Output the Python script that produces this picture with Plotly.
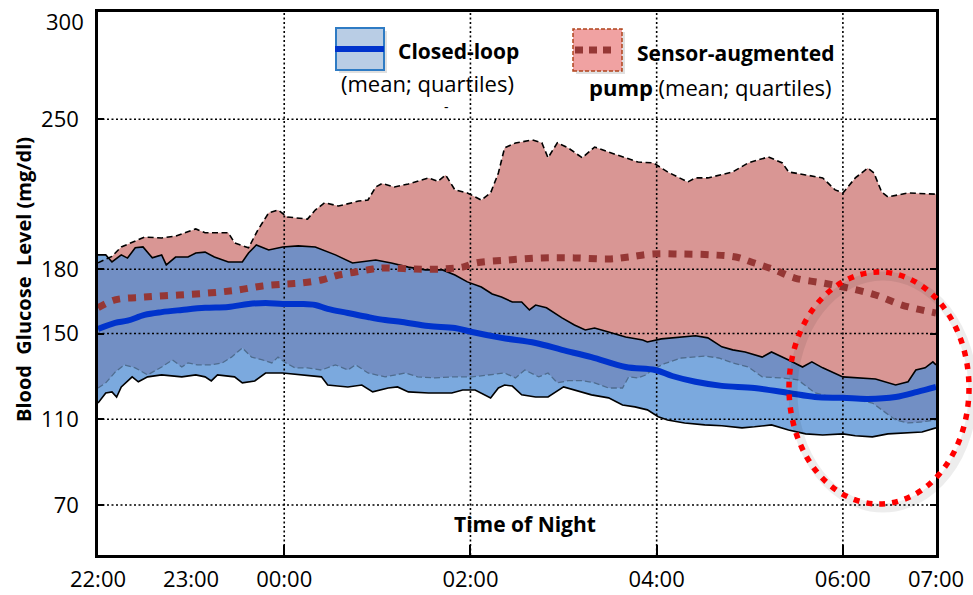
import plotly.graph_objects as go

# ---------------- data (minutes after 22:00, glucose mg/dl) ----------------
sap_upper_min = [0, 9, 15, 30, 41, 50, 63, 69, 84, 88, 97, 103, 110, 116, 122, 135, 140, 146, 155, 168,
                 174, 179, 183, 191, 200, 213, 219, 224, 230, 238, 247, 253, 258, 262, 269, 280, 286, 290,
                 296, 303, 312, 320, 329, 338, 348, 358, 367, 380, 385, 393, 409, 419, 432, 441, 445, 456,
                 467, 475, 480, 488, 496, 500, 505, 509, 522, 540]
sap_upper_val = [183, 186, 190.4, 195, 194.6, 195.5, 198.8, 197, 197, 192.3, 190, 198.3, 206.3, 207.6, 204.4,
                 203.4, 207.6, 211, 209.5, 211.8, 212.3, 218.4, 220, 218.4, 219.8, 222.6, 221, 224, 217,
                 215.6, 212.3, 215.6, 224.9, 236.6, 238.9, 240.3, 239, 232, 239, 236.6, 232, 237, 234.7,
                 232.4, 230, 229.6, 225.4, 220.7, 222.6, 222.6, 225.4, 229.6, 232.4, 229.6, 225.4, 224,
                 222.6, 217, 215.6, 222.6, 227.2, 224.9, 216, 213.7, 215.6, 215]

sap_lower_min = [0, 5, 11, 17, 24, 32, 41, 48, 54, 58, 64, 73, 80, 86, 93, 99, 106, 112, 116, 121, 127, 135,
                 144, 153, 161, 166, 174, 185, 198, 206, 217, 228, 241, 251, 262, 269, 275, 284, 290, 296,
                 303, 312, 320, 329, 338, 342, 348, 353, 357, 365, 376, 391, 400, 409, 419, 428, 441, 451,
                 462, 473, 483, 499, 507, 514, 522, 531, 540]
sap_lower_val = [124.6, 127, 132, 135.4, 134, 130.7, 134.4, 137.7, 134.4, 136.3, 135.4, 135.4, 136.3, 139,
                 143.3, 139, 137.7, 136.3, 139, 136.3, 134, 134, 133, 135.4, 133, 135.4, 131.6, 129.8, 131.6,
                 129.8, 129.3, 129.8, 129.8, 130.7, 131.6, 129.3, 133, 129.8, 131.6, 127, 128, 128, 127,
                 124.6, 124.6, 129.8, 129.3, 130.7, 133, 136, 138.6, 139.5, 138.6, 136.3, 134.4, 129.8,
                 129.3, 128.4, 122.3, 120.4, 120, 117.6, 113.4, 109.7, 108.3, 108.8, 109.7]

sap_mean_min = [0, 11, 30, 52, 73, 90, 106, 121, 131, 144, 155, 166, 177, 185, 204, 222, 235, 243, 264, 286,
                307, 329, 342, 357, 376, 396, 411, 423, 436, 449, 467, 483, 501, 518, 540]
sap_mean_val = [162, 165.7, 167, 168, 169, 170.3, 172.2, 173.1, 173.6, 175, 177.3, 178.7, 180.1, 180.6,
                180.1, 180.1, 181, 182.9, 184.3, 185.3, 185.3, 184.8, 185.7, 187.1, 187.1, 186.7, 185.7,
                182.9, 179.7, 175.9, 173.6, 171.3, 168, 163.3, 159.6]

cl_upper_min = [0, 5, 9, 15, 19, 24, 29, 35, 41, 44, 50, 58, 63, 69, 75, 84, 93, 97, 102, 110, 119, 129, 140,
                153, 164, 170, 179, 189, 200, 211, 222, 230, 238, 247, 254, 260, 267, 273, 278, 282, 289,
                299, 307, 314, 320, 329, 340, 351, 354, 363, 370, 385, 393, 402, 409, 417, 428, 434, 445,
                454, 460, 467, 480, 492, 501, 514, 522, 527, 533, 538, 540]
cl_upper_val = [186.7, 186.7, 183.4, 186.7, 185.2, 190, 190.4, 185.3, 186.7, 182, 185.7, 185.7, 187.6, 188,
                185.7, 183.4, 183.4, 187.6, 191.3, 189, 190.4, 190.9, 190.4, 186.7, 182.9, 183.4, 184.3,
                182.9, 181, 179.7, 179.7, 177.3, 174.1, 171.7, 168.5, 167, 164.7, 164.7, 161, 163.3, 162,
                157.3, 154, 151.7, 152.6, 150.7, 148.4, 147, 146.1, 147.5, 148, 149, 148, 143.8, 142.4,
                141.4, 139, 141.4, 137.7, 134.4, 136.8, 134, 129.8, 129.3, 128.8, 126, 127.5, 133, 134,
                136.8, 135.4]

cl_lower_min = [0, 5, 9, 12, 15, 22, 26, 32, 41, 54, 63, 69, 73, 77, 88, 93, 101, 108, 119, 131, 144, 148,
                157, 161, 170, 177, 187, 193, 200, 213, 228, 235, 243, 253, 258, 262, 267, 273, 282, 290,
                300, 307, 318, 329, 338, 346, 354, 361, 367, 378, 391, 402, 415, 423, 434, 445, 456, 467,
                480, 488, 499, 509, 520, 531, 540]
cl_lower_val = [117.6, 122.3, 122.8, 120.4, 125.1, 129.8, 127.5, 129.8, 130.7, 129.8, 130.7, 129.8, 127.9,
                130.7, 129.8, 127, 127.9, 131.6, 131.6, 130.7, 129.8, 126, 125.5, 125.1, 126, 122.8, 124.6,
                125.1, 122.8, 122.3, 122.3, 123.7, 123.7, 120, 124.6, 126, 125.5, 121.4, 120.4, 120.4,
                125.1, 123.7, 121.4, 120, 116.7, 115.8, 114.4, 111.2, 109.7, 108.3, 107.4, 107, 106, 106.5,
                107.4, 105, 103.2, 102.7, 103.2, 102.3, 101.8, 103.2, 103.7, 104.1, 106]

cl_mean_min = [0, 11, 19, 30, 41, 54, 69, 84, 97, 108, 119, 131, 140, 148, 161, 174, 185, 196, 213, 230, 241,
               260, 282, 299, 318, 340, 359, 370, 385, 402, 423, 445, 462, 480, 496, 514, 528, 540]
cl_mean_val = [152.1, 155, 156, 158.7, 160, 161, 162, 162.4, 163.8, 164.3, 163.8, 163.8, 163.3, 161.5, 159.6,
               157.7, 156.3, 155.4, 153.5, 152.6, 150.7, 148, 145.6, 142.4, 139, 134.4, 133, 130.2, 127.5,
               125.6, 124.6, 122.3, 120.4, 120, 119.5, 120.4, 122.8, 125.1]

x_tick_vals = [0, 60, 120, 240, 360, 480, 540]
x_tick_text = ["22:00", "23:00", "00:00", "02:00", "04:00", "06:00", "07:00"]
x_grid_vals = [120, 240, 360, 480]
y_tick_vals = [70, 110, 150, 180, 250, 300]
y_grid_vals = [70, 110, 150, 180, 250]
x_range = [0, 540]
y_range = [46.7, 300]

# ---------------- layout geometry (pixels) ----------------
W, H = 973, 595
PL, PR, PT, PB = 98, 936, 12, 555
FONT = "Open Sans"


def px(x):
    return (x - PL) / (PR - PL)


def py(y):
    return (PB - y) / (PB - PT)


RED_FILL = "#D99694"
BLUE_FILL = "rgba(81,141,211,0.755)"

fig = go.Figure()

# SAP quartile band
fig.add_trace(go.Scatter(
    x=sap_upper_min + sap_lower_min[::-1], y=sap_upper_val + sap_lower_val[::-1],
    fill="toself", fillcolor=RED_FILL, mode="lines", line=dict(width=0), hoverinfo="skip"))
# Closed-loop quartile band
fig.add_trace(go.Scatter(
    x=cl_upper_min + cl_lower_min[::-1], y=cl_upper_val + cl_lower_val[::-1],
    fill="toself", fillcolor=BLUE_FILL, mode="lines", line=dict(width=0), hoverinfo="skip"))

# grid lines (above fills)
gx, gy = [], []
for g in x_grid_vals:
    gx += [g, g, None]
    gy += [y_range[0], y_range[1], None]
hx, hy = [], []
for g in y_grid_vals:
    hx += [x_range[0], x_range[1], None]
    hy += [g, g, None]
fig.add_trace(go.Scatter(x=gx, y=gy, mode="lines",
                         line=dict(color="black", width=1.6, dash="2px,2.5px"), hoverinfo="skip"))
fig.add_trace(go.Scatter(x=hx, y=hy, mode="lines",
                         line=dict(color="black", width=1.6, dash="2px,2.5px"), hoverinfo="skip"))

# quartile lines
fig.add_trace(go.Scatter(x=sap_lower_min, y=sap_lower_val, mode="lines",
                         line=dict(color="#4F6C8E", width=1.3, dash="6px,3px")))
fig.add_trace(go.Scatter(x=cl_lower_min, y=cl_lower_val, mode="lines",
                         line=dict(color="black", width=1.6)))
fig.add_trace(go.Scatter(x=cl_upper_min, y=cl_upper_val, mode="lines",
                         line=dict(color="black", width=1.6)))
fig.add_trace(go.Scatter(x=sap_upper_min, y=sap_upper_val, mode="lines",
                         line=dict(color="black", width=1.6, dash="6px,3.5px")))

# means
fig.add_trace(go.Scatter(x=sap_mean_min, y=sap_mean_val, mode="lines",
                         line=dict(color="#953735", width=7, dash="8px,8px", shape="spline")))
fig.add_trace(go.Scatter(x=cl_mean_min, y=cl_mean_val, mode="lines",
                         line=dict(color="#0033CC", width=6, shape="spline")))

shapes = []
# red dotted ellipse (with soft shadow)
shapes.append(dict(type="circle", xref="paper", yref="paper",
                   x0=px(793), x1=px(973), y0=py(508), y1=py(276),
                   line=dict(color="rgba(0,0,0,0.07)", width=9), layer="above"))
shapes.append(dict(type="circle", xref="paper", yref="paper",
                   x0=px(789), x1=px(969), y0=py(504), y1=py(272),
                   line=dict(color="#FF0000", width=5.5, dash="6px,7px"), layer="above"))
# legend: closed-loop patch
shapes.append(dict(type="rect", xref="paper", yref="paper",
                   x0=px(339), x1=px(387), y0=py(73), y1=py(31),
                   fillcolor="rgba(0,0,0,0.12)", line=dict(width=0), layer="above"))
shapes.append(dict(type="rect", xref="paper", yref="paper",
                   x0=px(336), x1=px(384), y0=py(70), y1=py(28),
                   fillcolor="#B9CDE5", line=dict(color="#2E7BC4", width=2), layer="above"))
shapes.append(dict(type="line", xref="paper", yref="paper",
                   x0=px(335), x1=px(384), y0=py(49), y1=py(49),
                   line=dict(color="#0033CC", width=6), layer="above"))
# legend: SAP patch
shapes.append(dict(type="rect", xref="paper", yref="paper",
                   x0=px(576), x1=px(625), y0=py(74), y1=py(32),
                   fillcolor="rgba(0,0,0,0.12)", line=dict(width=0), layer="above"))
shapes.append(dict(type="rect", xref="paper", yref="paper",
                   x0=px(573), x1=px(622), y0=py(71), y1=py(29),
                   fillcolor="#F0A2A2", line=dict(color="#B0441C", width=1.5, dash="4px,2px"),
                   layer="above"))
shapes.append(dict(type="line", xref="paper", yref="paper",
                   x0=px(575), x1=px(614), y0=py(50), y1=py(50),
                   line=dict(color="#953735", width=7, dash="8px,6px"), layer="above"))
fig.update_layout(shapes=shapes)


def label(text, x, y, size, angle=0):
    return dict(text=text, x=px(x), y=py(y), xref="paper", yref="paper", showarrow=False,
                xanchor="center", yanchor="middle", textangle=angle,
                font=dict(family=FONT, size=size, color="black"))


ann = [
    label("<b>Closed-loop</b>", 458, 51, 21),
    label("(mean; quartiles)", 427, 83, 22),
    label("-", 446, 106, 14),
    label("<b>Sensor-augmented</b>", 736, 53, 21),
    label("<b>pump</b> (mean; quartiles)", 710, 87, 22),
    label("<b>Time of Night</b>", 525, 524, 21),
    label("<b>Blood\u00a0\u00a0Glucose\u00a0\u00a0Level (mg/dl)</b>", 23, 280, 20, -90),
    # top tick label sits just below the top border, as in the original
    dict(text=str(y_tick_vals[-1]), x=0, xref="paper", y=y_tick_vals[-1], yref="y",
         xanchor="right", yanchor="middle", xshift=-12, yshift=-9, showarrow=False,
         font=dict(family=FONT, size=22, color="black")),
]
fig.update_layout(annotations=ann)

y_tick_text = [str(v) for v in y_tick_vals[:-1]] + [""]

fig.update_layout(
    width=W, height=H,
    margin=dict(l=PL, r=W - PR, t=PT, b=H - PB, pad=0, autoexpand=False),
    paper_bgcolor="white", plot_bgcolor="white",
    showlegend=False,
    font=dict(family=FONT, color="black"),
    xaxis=dict(range=x_range, tickmode="array", tickvals=x_tick_vals, ticktext=x_tick_text,
               automargin=False, ticklabeloverflow="allow",
               showgrid=False, zeroline=False, showline=True, mirror=True, linecolor="black",
               linewidth=2.5, ticks="", ticklabelstandoff=3,
               tickfont=dict(family=FONT, size=22, color="black"),
               minor=dict(tickmode="array", tickvals=x_grid_vals, ticks="inside", ticklen=10,
                          tickwidth=2, tickcolor="black", showgrid=False)),
    yaxis=dict(range=y_range, tickmode="array", tickvals=y_tick_vals,
               ticktext=y_tick_text, automargin=False, ticklabeloverflow="allow",
               showgrid=False, zeroline=False, showline=True, mirror="ticks", linecolor="black",
               linewidth=2.5, ticks="inside", ticklen=6, tickwidth=2, tickcolor="black",
               ticklabelstandoff=12,
               tickfont=dict(family=FONT, size=22, color="black")),
)

fig.write_html("out.html", config={"displayModeBar": False},
               post_script="document.body.style.margin='0px';")
